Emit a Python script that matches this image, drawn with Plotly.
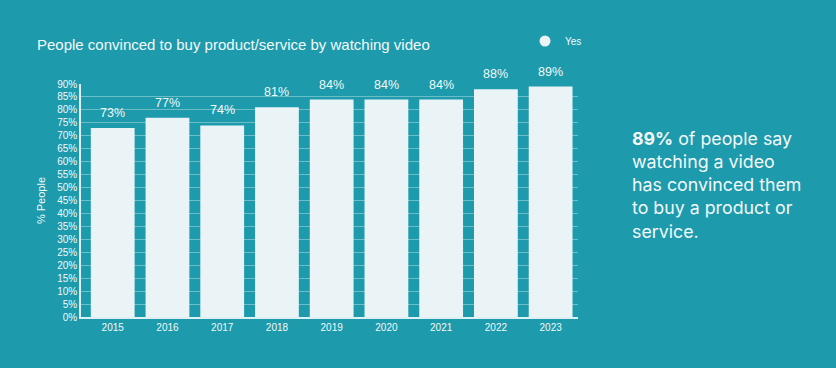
import plotly.graph_objects as go

years = ["2015", "2016", "2017", "2018", "2019", "2020", "2021", "2022", "2023"]
yes_values = [73, 77, 74, 81, 84, 84, 84, 88, 89]
y_ticks = list(range(0, 95, 5))
y_tick_labels = [f"{v}%" for v in y_ticks]

BG = "#1d9aab"
BAR = "#eaf4f7"
TXT = "#f2f9fb"
FONT = "Liberation Sans, Arial"

fig = go.Figure()
fig.add_trace(go.Bar(x=years, y=yes_values, marker=dict(color=BAR, line=dict(width=0)),
                     showlegend=False, hoverinfo="skip"))
# legend entry with circle marker
fig.add_trace(go.Scatter(x=[years[0]], y=[None], mode="markers", name="Yes",
                         marker=dict(symbol="circle", size=11, color=BAR)))

for i, v in enumerate(yes_values):
    fig.add_annotation(x=i, y=v, text=f"{v}%", showarrow=False, yshift=15,
                       font=dict(family=FONT, size=12.5, color=TXT))

fig.add_annotation(xref="paper", yref="paper", x=(630 - 81) / 497, y=1 + (84 - 126) / 233,
                   xanchor="left", yanchor="top", align="left", showarrow=False,
                   text="<b>89%</b> of people say<br>watching a video<br>has convinced them<br>to buy a product or<br>service.",
                   font=dict(family="Inter", size=17.8, color=TXT))

fig.update_layout(
    width=836, height=368,
    paper_bgcolor=BG, plot_bgcolor=BG,
    margin=dict(l=81, r=258, t=84, b=51),
    bargap=0.2,
    title=dict(text="People convinced to buy product/service by watching video",
               x=37 / 836, xanchor="left", y=1 - 45 / 368, yanchor="middle", xref="container", yref="container",
               font=dict(family=FONT, size=15, color=TXT)),
    legend=dict(x=1 + 9 / 497, xanchor="right", y=1 + (84 - 41) / 233, yanchor="middle",
                bgcolor="rgba(0,0,0,0)", font=dict(family=FONT, size=10, color=TXT)),
    xaxis=dict(type="category", showgrid=False, showline=True, linecolor="rgba(255,255,255,0.85)", linewidth=1.5,
               tickfont=dict(family=FONT, size=10, color=TXT), ticks="", fixedrange=True),
    yaxis=dict(range=[0, 90], tickvals=y_ticks, ticktext=y_tick_labels,
               showgrid=True, gridcolor="rgba(255,255,255,0.35)", gridwidth=1,
               showline=True, linecolor="rgba(255,255,255,0.85)", linewidth=1.5,
               zeroline=False, ticks="",
               tickfont=dict(family=FONT, size=10, color=TXT),
               title=dict(text="% People", font=dict(family=FONT, size=11, color=TXT), standoff=9)),
)

fig.write_html("out.html", config={"displayModeBar": False},
               post_script="document.body.style.margin='0px';")
